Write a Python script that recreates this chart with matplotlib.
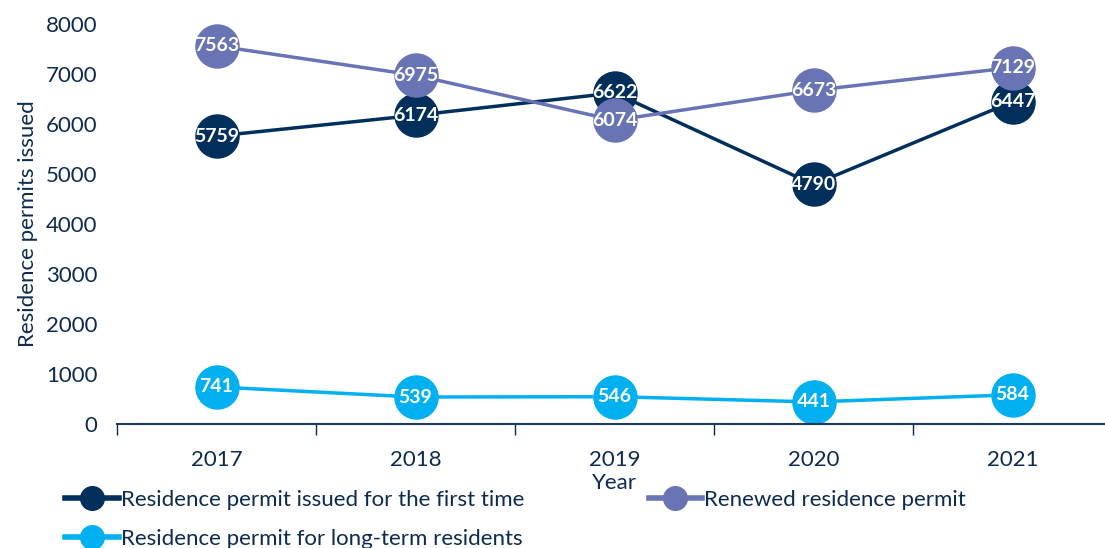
import matplotlib.pyplot as plt

plt.rcParams['font.family'] = ['Lato', 'DejaVu Sans']

years = ['2017', '2018', '2019', '2020', '2021']
first_time = [5759, 6174, 6622, 4790, 6447]
renewed = [7563, 6975, 6074, 6673, 7129]
long_term = [741, 539, 546, 441, 584]

text_col = '#0d2b4e'
c_first = '#012f5c'
c_renew = '#6874b4'
c_long = '#00b0f0'

fig = plt.figure(figsize=(11.05, 5.48), dpi=100)
ax = fig.add_axes([0.1059, 0.2263, 0.9005, 0.7299])

x = list(range(len(years)))
series = [
    ('Residence permit issued for the first time', first_time, c_first),
    ('Residence permit for long-term residents', long_term, c_long),
    ('Renewed residence permit', renewed, c_renew),
]
for name, vals, col in series:
    ax.plot(x, vals, color=col, lw=2.5, marker='o', ms=31, label=name, zorder=3)
    for xi, v in zip(x, vals):
        ax.text(xi, v, str(v), color='white', fontsize=14, fontweight='bold',
                ha='center', va='center', zorder=4)

ax.set_xlim(-0.5, 4.5)
ax.set_ylim(0, 8000)
ax.set_yticks(range(0, 8001, 1000))
# ticks between categories, labels under the categories
ax.set_xticks([i - 0.5 for i in range(6)], minor=False)
ax.set_xticklabels([])
ax.set_xticks(x, minor=True)
ax.set_xticklabels(years, minor=True)
ax.tick_params(axis='x', which='major', length=8, color=text_col, width=1)
ax.tick_params(axis='x', which='minor', length=0, pad=19, labelsize=16, labelcolor=text_col)
ax.tick_params(axis='y', length=0, labelsize=16, labelcolor=text_col, pad=14)
for s in ['top', 'right', 'left']:
    ax.spines[s].set_visible(False)
ax.spines['bottom'].set_color('#1f3b5c')
ax.spines['bottom'].set_linewidth(1.5)
ax.spines['bottom'].set_zorder(5)

ax.set_xlabel('Year', fontsize=16, color=text_col, labelpad=2)
ax.set_ylabel('Residence permits issued', fontsize=16, color=text_col, labelpad=6)

leg_handles = []
for name, vals, col in series:
    lh, = ax.plot([], [], color=col, lw=4, marker='o', ms=17, label=name)
    leg_handles.append(lh)
fig.legend(handles=leg_handles, loc='upper left', bbox_to_anchor=(0.051, 0.122), ncol=2,
           frameon=False, fontsize=16, labelcolor=text_col, handlelength=2.4,
           handletextpad=0.1, columnspacing=5.6, labelspacing=0.85, borderaxespad=0)

fig.savefig('out.png', dpi=100)
